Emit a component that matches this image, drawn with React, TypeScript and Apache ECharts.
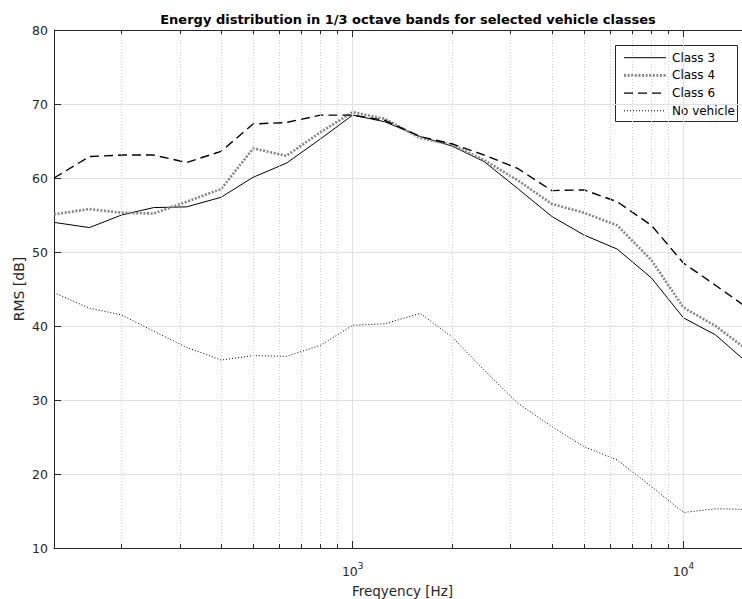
import React, { useEffect, useRef } from "react";
import * as echarts from "echarts";

// ---- data (1/3 octave band centre frequencies, RMS levels in dB) ----
const FREQS = [125, 160, 200, 250, 315, 400, 500, 630, 800, 1000, 1250, 1600, 2000, 2500, 3150, 4000, 5000, 6300, 8000, 10000, 12500, 16000];
const CLASS3 = [54.0, 53.3, 55.0, 56.0, 56.1, 57.4, 60.1, 62.0, 65.3, 68.5, 67.6, 65.6, 64.3, 62.2, 58.6, 54.8, 52.3, 50.4, 46.5, 41.1, 38.8, 34.6];
const CLASS4 = [55.1, 55.8, 55.3, 55.2, 56.8, 58.5, 64.0, 63.0, 66.2, 68.9, 68.0, 65.4, 64.5, 62.4, 59.7, 56.5, 55.3, 53.6, 48.9, 42.5, 40.0, 36.4];
const CLASS6 = [60.0, 62.9, 63.1, 63.1, 62.1, 63.6, 67.3, 67.5, 68.5, 68.5, 67.8, 65.6, 64.6, 63.1, 61.3, 58.3, 58.4, 56.8, 53.6, 48.5, 45.5, 42.1];
const NO_VEHICLE = [44.5, 42.4, 41.5, 39.3, 37.1, 35.4, 36.0, 35.9, 37.4, 40.1, 40.3, 41.7, 38.5, 34.0, 29.6, 26.4, 23.7, 21.9, 18.3, 14.8, 15.3, 15.2];

const SERIES_NAMES = ["Class 3", "Class 4", "Class 6", "No vehicle"];
const SERIES_VALUES = [CLASS3, CLASS4, CLASS6, NO_VEHICLE];

const X_MIN = 125;
const X_MAX = 16000;
const Y_MIN = 10;
const Y_MAX = 80;
const Y_STEP = 10;
const MAJOR_X_TICKS = [1000, 10000];
const MINOR_X_TICKS = [200, 300, 400, 500, 600, 700, 800, 900, 2000, 3000, 4000, 5000, 6000, 7000, 8000, 9000];

const TITLE = "Energy distribution in 1/3 octave bands for selected vehicle classes";
const X_NAME = "Freqyency [Hz]";
const Y_NAME = "RMS [dB]";

// ---- styles ----
const FONT = "DejaVu Sans";
const AXIS_COLOR = "#262626";
const GRID_COLOR = "#e1e1e1";
const LINE_STYLES: any[] = [
  { color: "#000000", width: 1, type: "solid" },
  { color: "#858585", width: 2.6, type: [2, 1.6], cap: "butt" },
  { color: "#000000", width: 1.4, type: [9, 5], cap: "butt" },
  { color: "#000000", width: 1, type: [1, 2], cap: "butt" },
];

export default function App() {
  const ref = useRef<HTMLDivElement>(null);

  useEffect(() => {
    if (!ref.current) return;
    const chart = echarts.init(ref.current, null, { renderer: "svg" });

    const majorTickLen = (Y_MAX - Y_MIN) * 7 / 518;
    const minorTickLen = (Y_MAX - Y_MIN) * 4 / 518;

    const gridMarks: any[] = [];
    MINOR_X_TICKS.forEach((f) =>
      gridMarks.push({ xAxis: f, lineStyle: { color: "#d0d0d0", width: 1, type: [1, 2] } })
    );
    MAJOR_X_TICKS.forEach((f) =>
      gridMarks.push({ xAxis: f, lineStyle: { color: GRID_COLOR, width: 1, type: "solid" } })
    );

    const tickMarks: any[] = [];
    const addTick = (f: number, len: number) => {
      tickMarks.push([
        { coord: [f, Y_MIN], lineStyle: { color: AXIS_COLOR, width: 1, type: "solid" } },
        { coord: [f, Y_MIN + len] },
      ]);
      tickMarks.push([
        { coord: [f, Y_MAX], lineStyle: { color: AXIS_COLOR, width: 1, type: "solid" } },
        { coord: [f, Y_MAX - len] },
      ]);
    };
    MINOR_X_TICKS.forEach((f) => addTick(f, minorTickLen));
    MAJOR_X_TICKS.forEach((f) => addTick(f, majorTickLen));
    tickMarks.push({ yAxis: Y_MAX, lineStyle: { color: AXIS_COLOR, width: 1, type: "solid" } });

    const dataSeries = SERIES_NAMES.map((name, i) => ({
      name,
      type: "line",
      data: FREQS.map((f, j) => [f, SERIES_VALUES[i][j]]),
      showSymbol: false,
      symbol: "none",
      lineStyle: LINE_STYLES[i],
      z: 3,
      silent: true,
    }));

    // legend (drawn as graphic, right-top inside the axes)
    const lgX = 615.5, lgY = 45.5, lgW = 122, lgH = 76;
    const rowY = [57.7, 75.4, 93.1, 110.8];
    const legendChildren: any[] = [
      { type: "rect", shape: { x: lgX, y: lgY, width: lgW, height: lgH }, style: { fill: "#fff", stroke: AXIS_COLOR, lineWidth: 1 } },
    ];
    SERIES_NAMES.forEach((name, i) => {
      const ls = LINE_STYLES[i];
      legendChildren.push({
        type: "line",
        shape: { x1: 624, y1: rowY[i], x2: 666, y2: rowY[i] },
        style: { stroke: ls.color, lineWidth: ls.width, lineDash: ls.type === "solid" ? null : ls.type, lineCap: "butt" },
      });
      legendChildren.push({
        type: "text",
        x: 672,
        y: rowY[i],
        style: { text: name, fontFamily: FONT, fontSize: 12, fill: "#000", verticalAlign: "middle", align: "left" },
      });
    });

    chart.setOption({
      animation: false,
      backgroundColor: "#ffffff",
      title: {
        text: TITLE,
        left: 403,
        textAlign: "center",
        top: 8,
        textStyle: { fontFamily: FONT, fontSize: 13, fontWeight: "bold", color: "#000" },
      },
      grid: { left: 54, top: 30, width: 697, height: 518, containLabel: false, outerBoundsMode: "none" },
      xAxis: {
        type: "log",
        logBase: 10,
        min: X_MIN,
        max: X_MAX,
        name: X_NAME,
        nameLocation: "middle",
        nameGap: 36,
        nameTextStyle: { fontFamily: FONT, fontSize: 13.5, color: AXIS_COLOR },
        axisLine: { show: true, lineStyle: { color: AXIS_COLOR, width: 1 } },
        axisTick: { show: false },
        splitLine: { show: false },
        axisLabel: {
          margin: 13,
          color: AXIS_COLOR,
          formatter: (v: number) => {
            const e = Math.log10(v);
            const r = Math.round(e);
            if (Math.abs(e - r) < 1e-6 && MAJOR_X_TICKS.some((t) => Math.abs(t - v) < 1e-3 * t)) {
              return "{b|10}{s|" + r + "}";
            }
            return "";
          },
          rich: {
            b: { fontFamily: FONT, fontSize: 12.5, color: AXIS_COLOR, lineHeight: 17, verticalAlign: "bottom" },
            s: { fontFamily: FONT, fontSize: 9, color: AXIS_COLOR, lineHeight: 10, verticalAlign: "top" },
          },
        },
      },
      yAxis: {
        type: "value",
        min: Y_MIN,
        max: Y_MAX,
        interval: Y_STEP,
        name: Y_NAME,
        nameLocation: "middle",
        nameGap: 28,
        nameMoveOverlap: false,
        nameTextStyle: { fontFamily: FONT, fontSize: 14, color: AXIS_COLOR },
        axisLine: { show: true, lineStyle: { color: AXIS_COLOR, width: 1 } },
        axisTick: { show: true, inside: true, length: 7, lineStyle: { color: AXIS_COLOR } },
        axisLabel: { fontFamily: FONT, fontSize: 12.5, color: AXIS_COLOR, margin: 6 },
        splitLine: { show: true, lineStyle: { color: GRID_COLOR, width: 1 } },
      },
      series: [
        {
          name: "grid-lines",
          type: "line",
          data: [],
          silent: true,
          z: 1,
          markLine: { silent: true, symbol: "none", label: { show: false }, animation: false, data: gridMarks },
        },
        ...dataSeries,
        {
          name: "ticks",
          type: "line",
          data: [],
          silent: true,
          z: 5,
          markLine: { silent: true, symbol: "none", label: { show: false }, animation: false, data: tickMarks },
        },
      ],
      graphic: [{ type: "group", z: 10, children: legendChildren }],
    });

    return () => chart.dispose();
  }, []);

  return (
    <div
      ref={ref}
      style={{ position: "absolute", left: 0, top: 0, width: 742, height: 599, background: "#fff" }}
    />
  );
}
